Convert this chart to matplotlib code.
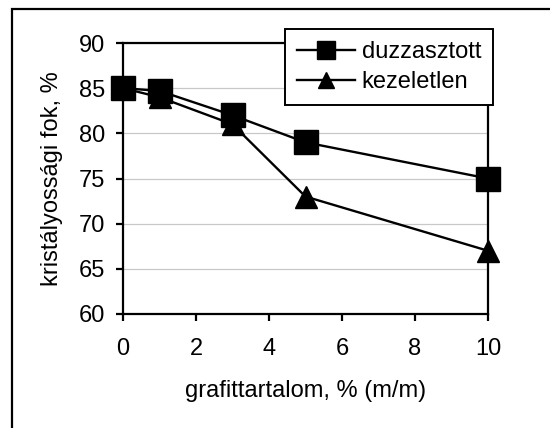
import matplotlib.pyplot as plt
from matplotlib.patches import Rectangle

plt.rcParams['font.family'] = ['Liberation Sans', 'DejaVu Sans']

grafit = [0, 1, 3, 5, 10]
duzzasztott = [85, 84.7, 82, 79, 75]
kezeletlen = [85, 84, 81, 73, 67]

fig = plt.figure(figsize=(5.5, 4.28), dpi=100)
W, H = 550, 428

# outer frame (only left and top are inside the picture)
fig.patches.append(Rectangle((12 / W, -0.1), 1.2, 1 - 9 / H + 0.1,
                             transform=fig.transFigure, fill=False,
                             edgecolor='black', linewidth=1.6))

ax = fig.add_axes([123 / W, 1 - 314 / H, (488 - 123) / W, (314 - 43) / H])

ax.plot(grafit, duzzasztott, color='black', lw=1.7, marker='s', ms=17.5,
        label='duzzasztott', clip_on=False, zorder=3)
ax.plot(grafit, kezeletlen, color='black', lw=1.7, marker='^', ms=16.5,
        label='kezeletlen', clip_on=False, zorder=3)

ax.set_xlim(0, 10)
ax.set_ylim(60, 90)
ax.set_xticks([0, 2, 4, 6, 8, 10])
ax.set_yticks([60, 65, 70, 75, 80, 85, 90])
ax.yaxis.grid(True, color='#c8c8c8', lw=0.9)
ax.set_axisbelow(True)
for s in ax.spines.values():
    s.set_linewidth(1.6)
ax.tick_params(direction='out', width=1.6, length=5, labelsize=17)
ax.tick_params(axis='x', pad=12)
ax.tick_params(axis='y', pad=8)

ax.set_xlabel('grafittartalom, % (m/m)', fontsize=17, labelpad=15)
ax.set_ylabel('kristályossági fok, %', fontsize=17, labelpad=11)

leg = fig.legend(loc='upper right', bbox_to_anchor=(493 / W, 1 - 29 / H),
                 fontsize=17, frameon=True, fancybox=False, markerscale=0.72,
                 handlelength=2.45, borderpad=0.5, labelspacing=0.35,
                 handletextpad=0.3, borderaxespad=0)
leg.get_frame().set_edgecolor('black')
leg.get_frame().set_linewidth(1.4)
leg.get_frame().set_alpha(1)

fig.savefig('out.png', dpi=100)
